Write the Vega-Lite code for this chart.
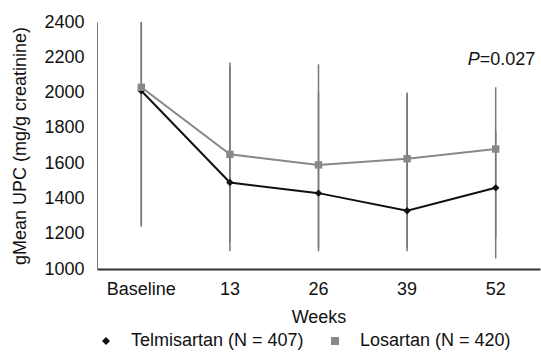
{
  "$schema": "https://vega.github.io/schema/vega-lite/v6.json",
  "width": 443,
  "height": 247,
  "autosize": {"type": "none"},
  "padding": {"left": 97, "top": 22, "right": 1, "bottom": 83},
  "background": "white",
  "config": {
    "font": "Liberation Sans",
    "view": {"stroke": null},
    "axis": {"labelOverlap": false, "grid": false, "ticks": false},
    "axisQuantitative": {"labelOverlap": false}
  },
  "data": {
    "values": [
      {"week": "Baseline", "group": "Telmisartan (N=407)", "value": 2010, "lo": 1240, "hi": 2400},
      {"week": "13", "group": "Telmisartan (N=407)", "value": 1490, "lo": 1100, "hi": 2170},
      {"week": "26", "group": "Telmisartan (N=407)", "value": 1430, "lo": 1100, "hi": 2160},
      {"week": "39", "group": "Telmisartan (N=407)", "value": 1330, "lo": 1100, "hi": 2000},
      {"week": "52", "group": "Telmisartan (N=407)", "value": 1460, "lo": 1060, "hi": 2030},
      {"week": "Baseline", "group": "Losartan (N=420)", "value": 2030, "lo": 1250, "hi": 2400},
      {"week": "13", "group": "Losartan (N=420)", "value": 1650, "lo": 1150, "hi": 2150},
      {"week": "26", "group": "Losartan (N=420)", "value": 1590, "lo": 1120, "hi": 2000},
      {"week": "39", "group": "Losartan (N=420)", "value": 1625, "lo": 1120, "hi": 1990},
      {"week": "52", "group": "Losartan (N=420)", "value": 1680, "lo": 1180, "hi": 1780}
    ]
  },
  "encoding": {
    "x": {"field": "week", "type": "nominal", "sort": ["Baseline", "13", "26", "39", "52"],
          "axis": {"title": "Weeks", "labelAngle": 0, "ticks": false, "grid": false, "domainColor": "#333", "domainWidth": 2, "labelPadding": 11, "titlePadding": 10,
                   "labelFont": "Liberation Sans", "titleFont": "Liberation Sans", "labelFontSize": 18, "titleFontSize": 18, "titleFontWeight": "normal", "labelColor": "#111", "titleColor": "#111"}},
    "y": {"field": "value", "type": "quantitative", "scale": {"domain": [1000, 2400], "nice": false},
          "axis": {"title": "gMean UPC (mg/g creatinine)", "tickCount": 8, "format": "d", "labelOverlap": false, "ticks": false, "grid": false, "domainColor": "#777", "labelPadding": 13, "titlePadding": 14,
                   "labelFont": "Liberation Sans", "titleFont": "Liberation Sans", "labelFontSize": 18, "titleFontSize": 18, "titleFontWeight": "normal", "labelColor": "#111", "titleColor": "#111"}}
  },
  "layer": [
    {
      "mark": {"type": "rule", "color": "#777", "strokeWidth": 1.5},
      "encoding": {
        "y": {"field": "lo", "type": "quantitative",
              "axis": {"title": "gMean UPC (mg/g creatinine)", "tickCount": 8, "format": "d", "labelOverlap": false, "ticks": false, "grid": false, "domainColor": "#777", "labelPadding": 13, "titlePadding": 14,
                       "labelFont": "Liberation Sans", "titleFont": "Liberation Sans", "labelFontSize": 18, "titleFontSize": 18, "titleFontWeight": "normal", "labelColor": "#111", "titleColor": "#111"}},
        "y2": {"field": "hi"}
      }
    },
    {
      "mark": {"type": "line", "strokeWidth": 2},
      "encoding": {
        "color": {"field": "group", "type": "nominal",
                  "scale": {"domain": ["Telmisartan (N=407)", "Losartan (N=420)"], "range": ["#111111", "#888888"]},
                  "legend": {"title": null, "orient": "bottom", "direction": "horizontal", "labelFontSize": 18, "labelFont": "Liberation Sans", "labelColor": "#111", "labelLimit": 400, "offset": 6, "columnPadding": 22, "labelOffset": 16, "symbolSize": 64, "symbolStrokeWidth": 0,
                             "labelExpr": "replace(datum.label, '=', ' = ')",
                             "encode": {"symbols": {"update": {
                               "shape": {"signal": "datum.value === 'Losartan (N=420)' ? 'M-1,-0.1L1,-0.1L1,0.1L-1,0.1ZM-0.4,-0.4L0.4,-0.4L0.4,0.4L-0.4,0.4Z' : 'M-1,-0.1L1,-0.1L1,0.1L-1,0.1ZM0,-0.38L0.45,0L0,0.38L-0.45,0Z'"},
                               "fill": {"signal": "datum.value === 'Losartan (N=420)' ? '#888888' : '#111111'"},
                               "fillOpacity": {"value": 1},
                               "strokeWidth": {"value": 0},
                               "size": {"value": 64}
                             }}}}}
      }
    },
    {
      "mark": {"type": "point", "filled": true, "opacity": 1, "size": 55},
      "encoding": {
        "color": {"field": "group", "type": "nominal"},
        "shape": {"field": "group", "type": "nominal", "legend": null,
                  "scale": {"domain": ["Telmisartan (N=407)", "Losartan (N=420)"], "range": ["diamond", "square"]}}
      }
    },
    {
      "data": {"values": [{"week": "52", "value": 2185, "t": "P"}]},
      "mark": {"type": "text", "align": "right", "baseline": "middle", "fontSize": 18, "fontStyle": "italic", "dx": -16, "color": "#111", "font": "Liberation Sans"},
      "encoding": {"text": {"field": "t"}}
    },
    {
      "data": {"values": [{"week": "52", "value": 2185, "t": "=0.027"}]},
      "mark": {"type": "text", "align": "left", "baseline": "middle", "fontSize": 18, "dx": -16, "color": "#111", "font": "Liberation Sans"},
      "encoding": {"text": {"field": "t"}}
    }
  ]
}
